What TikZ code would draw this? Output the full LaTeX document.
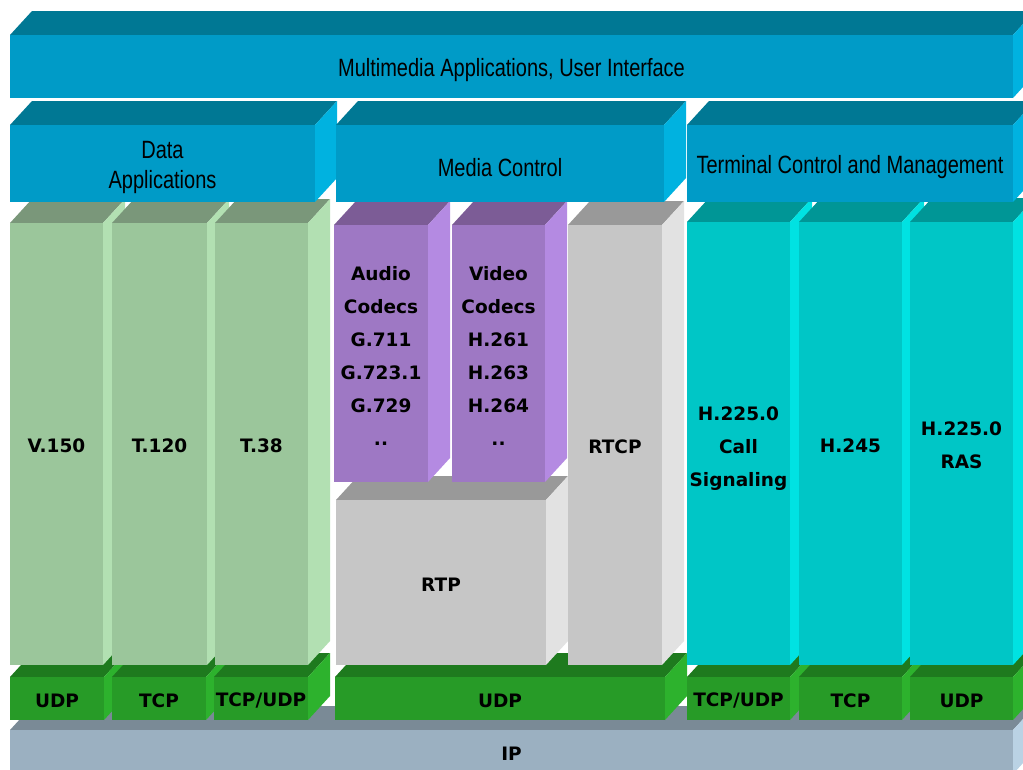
\documentclass[tikz,border=0pt]{standalone}
\usepackage{fontspec}
\newfontfamily\layerfont[FakeStretch=0.8]{Liberation Sans}
\newfontfamily\protofont{DejaVu Sans}

% palettes: front / top / side shades of each block colour
\definecolor{pBluefront}{HTML}{009BC7}
\definecolor{pBluetop}{HTML}{007894}
\definecolor{pBlueside}{HTML}{00B2E0}
\definecolor{pLeaffront}{HTML}{9BC69B}
\definecolor{pLeaftop}{HTML}{7A977A}
\definecolor{pLeafside}{HTML}{B2E0B2}
\definecolor{pVioletfront}{HTML}{9E78C4}
\definecolor{pViolettop}{HTML}{7C5C96}
\definecolor{pVioletside}{HTML}{B48AE2}
\definecolor{pGreyfront}{HTML}{C6C6C6}
\definecolor{pGreytop}{HTML}{999999}
\definecolor{pGreyside}{HTML}{E2E2E2}
\definecolor{pTealfront}{HTML}{00C6C6}
\definecolor{pTealtop}{HTML}{009696}
\definecolor{pTealside}{HTML}{00E2E2}
\definecolor{pGrassfront}{HTML}{279B27}
\definecolor{pGrasstop}{HTML}{1E7A1E}
\definecolor{pGrassside}{HTML}{2DB22D}
\definecolor{pSteelfront}{HTML}{9BB0C1}
\definecolor{pSteeltop}{HTML}{7A8A96}
\definecolor{pSteelside}{HTML}{BAD2E4}

\tikzset{
  layer/.style={font=\fontsize{25}{30}\selectfont\layerfont, yshift=-4pt},
  proto/.style={font=\fontsize{18.5}{33}\selectfont\protofont\bfseries, yshift=-2pt},
  protolow/.style={proto, yshift=-3pt},
  slabtext/.style={inner sep=0pt, align=center},
}

% \slab{name}{x1}{y1}{x2}{y2}{palette}{text style}{text}
% front face from (x1,y1) to (x2,y2), depth drawn up and to the right
\newcommand{\slab}[8]{%
  \fill[#6top] (#2,#3) -- (#2+22,#3-24) -- (#4+22,#3-24) -- (#4,#3) -- cycle;
  \fill[#6side] (#4,#3) -- (#4+22,#3-24) -- (#4+22,#5-24) -- (#4,#5) -- cycle;
  \node[fill=#6front, inner sep=0pt,
        minimum width={(#4-#2)*1pt}, minimum height={(#5-#3)*1pt}]
        (#1) at ({(#2+#4)/2},{(#3+#5)/2}) {};
  \node[slabtext, #7] (#1-text) at (#1.center) {#8};
}

\begin{document}
\begin{tikzpicture}[x=1pt,y=-1pt]
\useasboundingbox (0,0) rectangle (1023,769);
\clip (0,0) rectangle (1023,769);
\fill[white] (0,0) rectangle (1023,769);

% network layer
\slab{ip}{10}{730}{1013}{774}{pSteel}{proto}{IP}

% transport blocks
\slab{udpA}{10}{677}{104}{720}{pGrass}{proto}{UDP}
\slab{tcpA}{112}{677}{206}{720}{pGrass}{proto}{TCP}
\slab{tcpudpA}{214}{677}{308}{720}{pGrass}{proto}{TCP/UDP}
\slab{udpB}{335}{677}{665}{720}{pGrass}{proto}{UDP}
\slab{tcpudpB}{687}{677}{790}{720}{pGrass}{proto}{TCP/UDP}
\slab{tcpB}{799}{677}{902}{720}{pGrass}{proto}{TCP}
\slab{udpC}{910}{677}{1013}{720}{pGrass}{proto}{UDP}

% data protocols
\slab{v150}{10}{223}{103}{665}{pLeaf}{proto}{V.150}
\slab{t120}{112}{223}{207}{665}{pLeaf}{proto}{T.120}
\slab{t38}{215}{223}{308}{665}{pLeaf}{proto}{T.38}

% media path
\slab{rtp}{336}{500}{546}{665}{pGrey}{proto}{RTP}
\slab{audio}{334}{225}{428}{482}{pViolet}{proto}{Audio\\Codecs\\G.711\\G.723.1\\G.729\\..}
\slab{video}{452}{225}{545}{482}{pViolet}{proto}{Video\\Codecs\\H.261\\H.263\\H.264\\..}
\slab{rtcp}{568}{225}{662}{665}{pGrey}{proto}{RTCP}

% terminal control protocols
\slab{callsig}{687}{222}{790}{665}{pTeal}{protolow}{H.225.0\\Call\\Signaling}
\slab{h245}{799}{222}{902}{665}{pTeal}{proto}{H.245}
\slab{ras}{910}{222}{1013}{665}{pTeal}{proto}{H.225.0\\RAS}

% application groups
\slab{dataapp}{10}{125}{315}{202}{pBlue}{layer}{Data\\Applications}
\slab{mediactl}{336}{125}{664}{202}{pBlue}{layer}{Media Control}
\slab{termctl}{687}{125}{1013}{202}{pBlue}{layer}{Terminal Control and Management}

% top layer
\slab{mmapp}{10}{35}{1013}{98}{pBlue}{layer}{Multimedia Applications, User Interface}
\end{tikzpicture}
\end{document}
